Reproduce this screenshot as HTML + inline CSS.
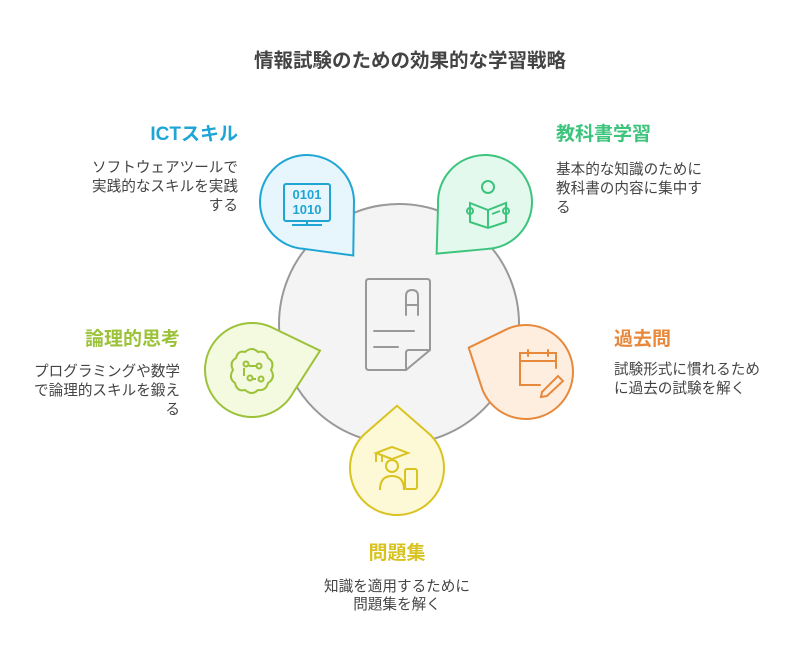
<!DOCTYPE html>
<html><head><meta charset="utf-8"><style>
body{margin:0;background:#fff;}
svg text{font-family:"Liberation Sans","Noto Sans CJK JP",sans-serif;}
.h{font-size:19px;font-weight:bold;}
.d{font-size:14.6px;fill:#444;}
</style></head><body>
<svg width="794" height="662" viewBox="0 0 794 662" xmlns="http://www.w3.org/2000/svg">
<text x="410" y="67" text-anchor="middle" font-size="19.5" font-weight="bold" fill="#444">情報試験のための効果的な学習戦略</text>
<circle cx="399" cy="324" r="120" fill="#f4f4f4" stroke="#999" stroke-width="2"/>
<g fill="none" stroke="#999" stroke-width="2" stroke-linecap="round">
<path d="M369,279 H427 Q430,279 430,282 V350 L406,370 H369 Q366,370 366,367 V282 Q366,279 369,279 Z"/>
<path d="M406,370 V353 Q406,350 409,350 H430"/>
<path d="M406,315 V296 Q406,290 412,290 Q418,290 418,296 V315 M406,305 H418"/>
<path d="M374,331 H414 M374,347 H398"/>
</g>
<defs><path id="td" d="M-47,0 A47 47 0 0 1 0,-47 A47 47 0 0 1 47,0 L49,51 L0,47 A47 47 0 0 1 -47,0 Z"/>
<path id="td2" d="M-47,0 A47 47 0 0 1 0,-47 A47 47 0 0 1 47,0 L44,44 L0,47 A47 47 0 0 1 -47,0 Z"/></defs>
<use href="#td" transform="translate(307,202) rotate(3)" fill="#e6f6fc" stroke="#1fa5d4" stroke-width="2"/>
<use href="#td" transform="translate(485,202) rotate(87)" fill="#e4f9ee" stroke="#3cc47c" stroke-width="2"/>
<use href="#td2" transform="translate(526,372) rotate(158)" fill="#fdeee0" stroke="#e8883a" stroke-width="2"/>
<use href="#td2" transform="translate(397,468) rotate(225)" fill="#fdf9d6" stroke="#d9c320" stroke-width="2"/>
<use href="#td" transform="translate(252,370) rotate(-62)" fill="#f3fadf" stroke="#9cc23a" stroke-width="2"/>
<g fill="none" stroke="#1fa5d4" stroke-width="2">
<rect x="284" y="184" width="46" height="37" rx="2"/>
<path d="M292,225 H322 M307,221 V225"/>
</g>
<text x="307" y="199" text-anchor="middle" font-size="13" font-weight="bold" fill="#1fa5d4" font-family="Liberation Mono">0101</text>
<text x="307" y="214" text-anchor="middle" font-size="13" font-weight="bold" fill="#1fa5d4" font-family="Liberation Mono">1010</text>
<g fill="none" stroke="#3cc47c" stroke-width="2">
<circle cx="488" cy="187" r="6"/>
<path d="M470,203 L488,210 L506,203 V222 L488,228 L470,222 Z M488,210 V228"/>
<circle cx="470" cy="211" r="3"/><circle cx="506" cy="211" r="3"/>
<path d="M492,214 L500,211"/>
</g>
<g fill="none" stroke="#e8883a" stroke-width="2" stroke-linecap="round">
<path d="M540,385 H520 V353 H556 V368 M520,361 H556 M528,350 V356 M548,350 V356"/>
<path d="M542,392 L558,376 L563,381 L547,396 L541,397 Z"/>
</g>
<g fill="none" stroke="#d9c320" stroke-width="2">
<path d="M376,453 L392,447 L408,453 L392,459 Z M382,456 V462 M376,453 V462"/>
<circle cx="392" cy="466" r="6"/>
<path d="M380,490 Q380,476 392,476 Q404,476 404,490"/>
<rect x="405" y="469" width="12" height="20" rx="2"/>
</g>
<g fill="none" stroke="#9cc23a" stroke-width="2">
<path d="M245,352 Q252,346 258,352 Q266,350 268,358 Q275,362 271,370 Q276,378 268,383 Q266,391 258,390 Q252,396 245,390 Q237,392 235,383 Q228,378 233,370 Q229,362 236,358 Q238,350 245,352 Z"/>
<circle cx="246" cy="364" r="2.5"/><circle cx="259" cy="366" r="2.5"/><circle cx="250" cy="378" r="2.5"/><circle cx="261" cy="379" r="2.5"/>
<path d="M244,368 V376 M256,366 H249 M256,379 H253"/>
</g>
<text x="238" y="140" text-anchor="end" class="h" fill="#1fa5d4">ICTスキル</text>
<text x="238" y="172" text-anchor="end" class="d">ソフトウェアツールで</text>
<text x="238" y="191" text-anchor="end" class="d">実践的なスキルを実践</text>
<text x="238" y="210" text-anchor="end" class="d">する</text>
<text x="556" y="140" class="h" fill="#3cc47c">教科書学習</text>
<text x="556" y="174" class="d">基本的な知識のために</text>
<text x="556" y="193" class="d">教科書の内容に集中す</text>
<text x="556" y="212" class="d">る</text>
<text x="614" y="345" class="h" fill="#e8883a">過去問</text>
<text x="614" y="374" class="d">試験形式に慣れるため</text>
<text x="614" y="393" class="d">に過去の試験を解く</text>
<text x="180" y="345" text-anchor="end" class="h" fill="#9cc23a">論理的思考</text>
<text x="180" y="376" text-anchor="end" class="d">プログラミングや数学</text>
<text x="180" y="395" text-anchor="end" class="d">で論理的スキルを鍛え</text>
<text x="180" y="414" text-anchor="end" class="d">る</text>
<text x="397" y="559" text-anchor="middle" class="h" fill="#d9c320">問題集</text>
<text x="397" y="591" text-anchor="middle" class="d">知識を適用するために</text>
<text x="397" y="609" text-anchor="middle" class="d">問題集を解く</text>
</svg>
</body></html>
